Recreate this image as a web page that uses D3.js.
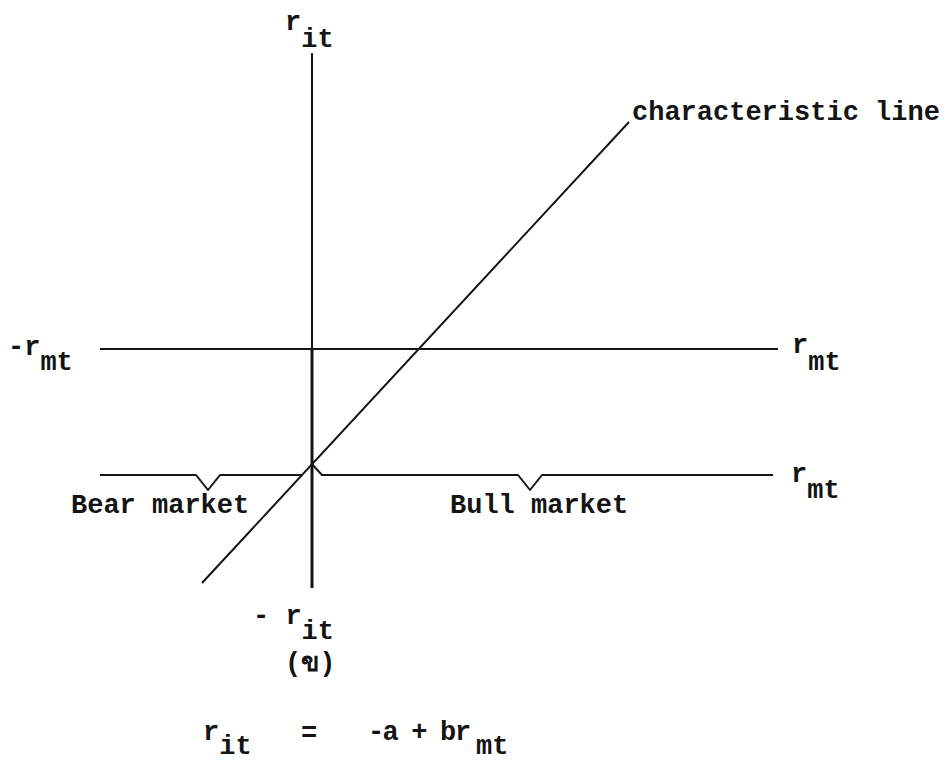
<!DOCTYPE html>
<html>
<head>
<meta charset="utf-8">
<script src="https://cdn.jsdelivr.net/npm/d3@7"></script>
<style>
  html, body { margin: 0; padding: 0; background: #fff; }
  svg { display: block; }
  text { font-family: "Liberation Mono", "DejaVu Sans Mono", monospace; font-size: 27px; font-weight: bold; fill: #141414; }
</style>
</head>
<body>
<svg id="chart" width="950" height="762"></svg>
<script>
// ---- data (diagram units: x = r_mt, y = r_it) ----
const xExtent = [-2.12, 4.68];          // horizontal span of the drawing
const yExtent = [-2.39, 2.96];          // vertical axis span (r_it)
const upperAxisLevel = 0;               // -r_mt ... r_mt axis
const upperAxisSpan = [-2.12, 4.66];
const lowerAxisLevel = -1.26;           // second r_mt line (braced)
const bearBrace = [-2.12, -0.10, -1.04]; // start, end, notch
const bullBrace = [0.10, 4.61, 2.18];    // start, end, notch
const charLineX = [-1.10, 3.17];        // characteristic line end points (r_mt)
const charLineY = [-2.34, 2.27];        // characteristic line end points (r_it)
const marketLabels = ["Bear market", "Bull market"];
const lineLabel = "characteristic line";
const axisMain = "r";
const axisSubs = ["it", "mt"];
const thaiLabel = "(ข)";
const eqParts = ["=", "-a + b"];

// ---- scales ----
const svg = d3.select("#chart");
const x = d3.scaleLinear().domain(xExtent).range([100, 780]);
const y = d3.scaleLinear().domain(yExtent).range([588, 53]);
const ink = "#141414";

// vertical axis (thin above the r_mt axis, heavier below)
svg.append("line")
  .attr("x1", x(0)).attr("x2", x(0))
  .attr("y1", y(yExtent[1])).attr("y2", y(upperAxisLevel))
  .attr("stroke", ink).attr("stroke-width", 2);
svg.append("line")
  .attr("x1", x(0)).attr("x2", x(0))
  .attr("y1", y(upperAxisLevel)).attr("y2", y(yExtent[0]))
  .attr("stroke", ink).attr("stroke-width", 3);

// upper horizontal axis
svg.append("line")
  .attr("x1", x(upperAxisSpan[0])).attr("x2", x(upperAxisSpan[1]))
  .attr("y1", y(upperAxisLevel)).attr("y2", y(upperAxisLevel))
  .attr("stroke", ink).attr("stroke-width", 2);

// characteristic line
const lineGen = d3.line().x(d => x(d[0])).y(d => y(d[1]));
const charPts = d3.zip(charLineX, charLineY);
svg.append("path").attr("d", lineGen(charPts))
  .attr("fill", "none").attr("stroke", ink).attr("stroke-width", 2);

// intercept of the characteristic line with the vertical axis
const slope = (charLineY[1] - charLineY[0]) / (charLineX[1] - charLineX[0]);
const intercept = charLineY[0] + (0 - charLineX[0]) * slope;

// braces on the lower line
const nd = 0.15, nw = 0.12;
function bracePts(b) {
  return [
    [b[0], lowerAxisLevel],
    [b[2] - nw, lowerAxisLevel],
    [b[2], lowerAxisLevel - nd],
    [b[2] + nw, lowerAxisLevel],
    [b[1], lowerAxisLevel]
  ];
}
svg.append("path").attr("d", lineGen(bracePts(bearBrace)))
  .attr("fill", "none").attr("stroke", ink).attr("stroke-width", 2).attr("stroke-linejoin", "round");
svg.append("path").attr("d", lineGen([[0, intercept]].concat(bracePts(bullBrace))))
  .attr("fill", "none").attr("stroke", ink).attr("stroke-width", 2).attr("stroke-linejoin", "round");

// ---- labels ----
function subLabel(px, py, main, sub, dy) {
  const t = svg.append("text").attr("x", px).attr("y", py);
  t.append("tspan").text(main);
  t.append("tspan").attr("dy", dy).text(sub);
  return t;
}
subLabel(285, 30, axisMain, axisSubs[0], 17);            // top r_it
subLabel(8, 355, "-" + axisMain, axisSubs[1], 15);        // left -r_mt
subLabel(792, 353, axisMain, axisSubs[1], 17);            // upper right r_mt
subLabel(791, 482, axisMain, axisSubs[1], 16);            // lower right r_mt
subLabel(253, 624, "- " + axisMain, axisSubs[0], 15);     // bottom - r_it
svg.append("text").attr("x", 285).attr("y", 671).text(thaiLabel);

svg.append("text").attr("x", 632).attr("y", 120).text(lineLabel);
svg.append("text").attr("x", 71).attr("y", 513).text(marketLabels[0]);
svg.append("text").attr("x", 450).attr("y", 513).text(marketLabels[1]);

// equation
subLabel(203, 740, axisMain, axisSubs[0], 14);
svg.append("text").attr("x", 301).attr("y", 741).text(eqParts[0]);
svg.append("text").attr("x", 368).attr("y", 740).attr("letter-spacing", -1.8).text(eqParts[1]);
svg.append("text").attr("x", 455).attr("y", 740).text(axisMain);
svg.append("text").attr("x", 476).attr("y", 754).text(axisSubs[1]);
</script>
</body>
</html>
